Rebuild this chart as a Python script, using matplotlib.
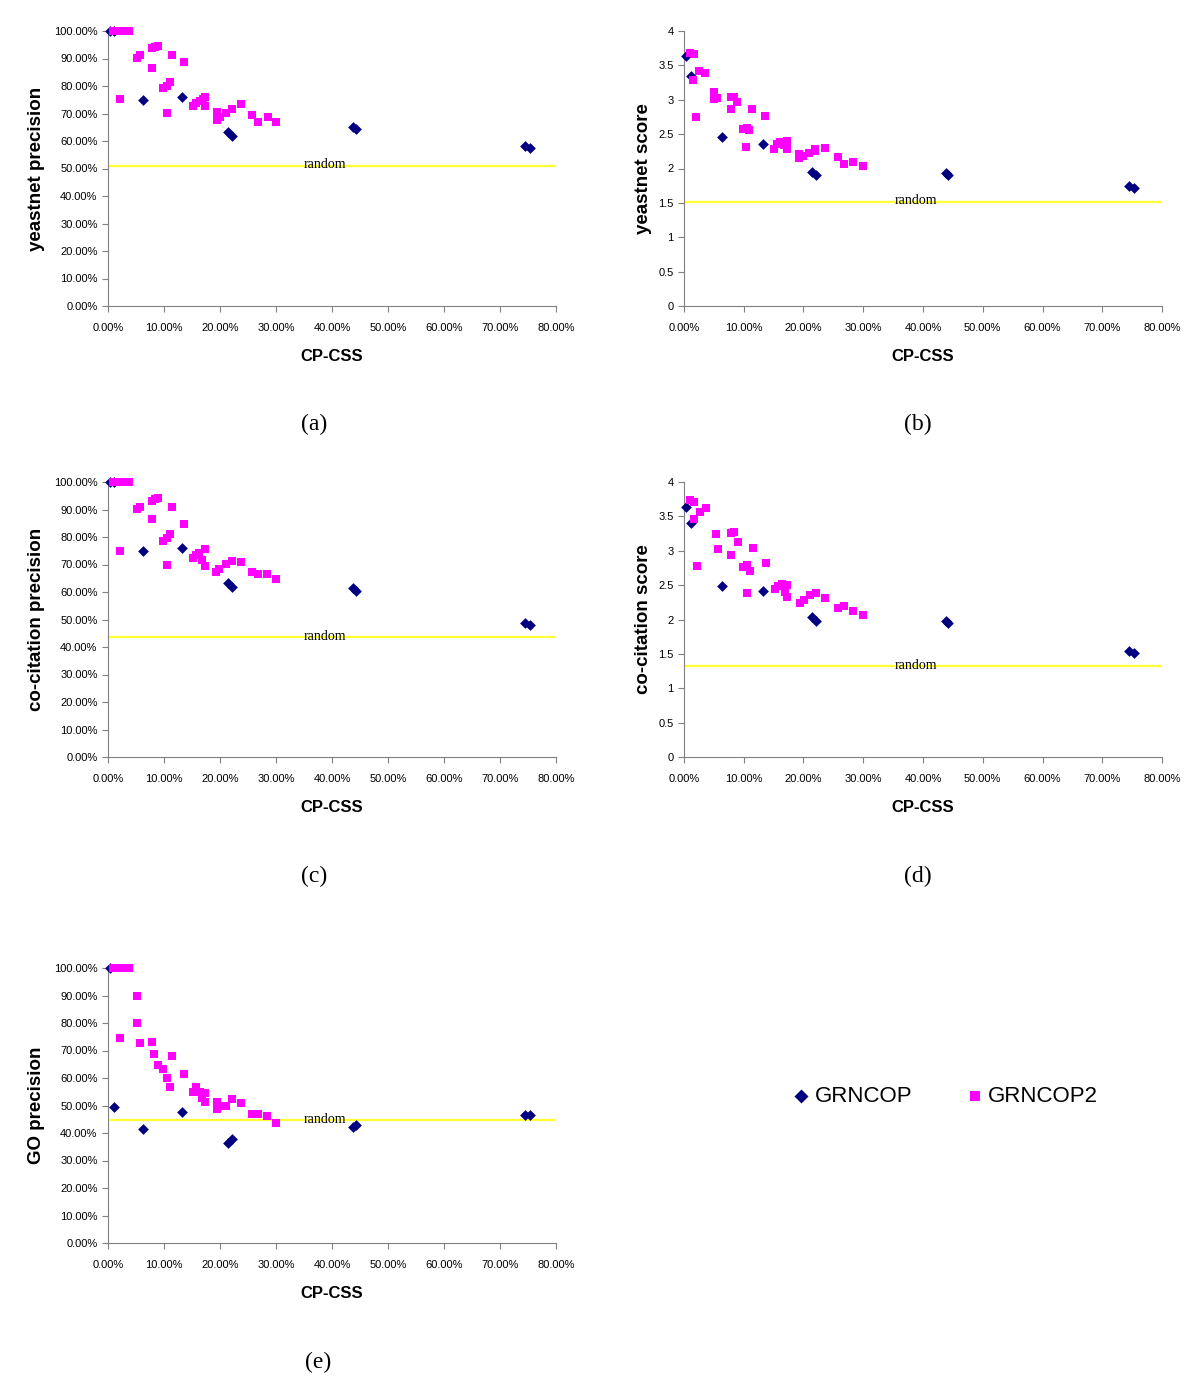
import matplotlib.pyplot as plt
from matplotlib.ticker import FuncFormatter, MultipleLocator

plt.rcParams['font.family'] = ['Liberation Sans', 'DejaVu Sans']

# CP-CSS values (percent) of the GRNCOP points, shared by all panels
grncop_x = [0.4, 1.1, 6.3, 13.2, 21.5, 22.1, 43.8, 44.2, 74.4, 75.3]

# panel (a) yeastnet precision
a_grncop_y = [100, 100, 75.0, 75.9, 63.4, 61.8, 65.2, 64.3, 58.3, 57.3]
a_grncop2_x = [0.9, 1.5, 2.3, 3.0, 3.8, 2.1, 5.1, 5.7, 7.8, 8.4, 9.0, 7.9, 9.9, 10.5, 11.1, 10.5, 11.5,
               13.6, 15.2, 15.8, 16.4, 16.9, 17.4, 17.4, 19.4, 19.4, 20.0, 21.1, 22.1, 23.8, 25.8, 26.8,
               28.5, 30.0]
a_grncop2_y = [100, 100, 100, 100, 100, 75.2, 90.3, 91.3, 93.7, 94.3, 94.5, 86.7, 79.2, 80.1, 81.3, 70.3,
               91.3, 88.8, 72.7, 73.7, 74.5, 75.2, 76.1, 72.7, 70.7, 67.6, 68.6, 70.3, 71.5, 73.5, 69.5,
               66.8, 68.6, 66.8]
a_random = 51.0

# panel (b) yeastnet score
b_grncop_y = [3.64, 3.34, 2.46, 2.36, 1.95, 1.91, 1.93, 1.90, 1.75, 1.72]
b_grncop2_x = [1.0, 1.6, 1.5, 2.5, 3.5, 2.0, 5.1, 5.1, 5.6, 7.8, 8.4, 8.8, 7.8, 11.4, 13.6, 9.9, 10.5, 10.9,
               10.4, 15.1, 15.6, 16.1, 16.5, 16.8, 17.2, 17.3, 19.3, 19.3, 20.0, 21.0, 21.9, 22.0, 23.6,
               25.7, 26.8, 28.3, 30.0]
b_grncop2_y = [3.68, 3.67, 3.29, 3.42, 3.39, 2.75, 3.12, 3.01, 3.02, 3.04, 3.04, 2.97, 2.87, 2.87, 2.77,
               2.57, 2.59, 2.56, 2.32, 2.28, 2.36, 2.38, 2.38, 2.34, 2.40, 2.28, 2.21, 2.16, 2.18, 2.23,
               2.25, 2.29, 2.30, 2.17, 2.06, 2.09, 2.03]
b_random = 1.52

# panel (c) co-citation precision
c_grncop_y = [100, 100, 75.0, 76.1, 63.2, 61.7, 61.3, 60.5, 48.8, 48.1]
c_grncop2_x = [0.9, 1.5, 2.3, 3.0, 3.8, 2.1, 5.1, 5.7, 7.8, 8.4, 9.0, 7.8, 9.9, 10.5, 11.1, 10.5, 11.5,
               13.6, 15.2, 15.7, 16.3, 16.8, 17.3, 17.3, 19.3, 19.9, 21.1, 22.1, 23.7, 25.8, 26.7, 28.4,
               30.0]
c_grncop2_y = [100, 100, 100, 100, 100, 74.9, 90.1, 91.0, 93.2, 93.8, 94.1, 86.5, 78.7, 79.7, 81.1, 69.8,
               91.0, 84.6, 72.5, 73.5, 74.3, 71.6, 75.7, 69.6, 67.4, 68.4, 70.1, 71.4, 71.0, 67.4, 66.5,
               66.7, 64.8]
c_random = 43.5

# panel (d) co-citation score
d_grncop_y = [3.64, 3.40, 2.49, 2.41, 2.04, 1.98, 1.98, 1.95, 1.54, 1.52]
d_grncop2_x = [1.0, 1.6, 1.6, 2.6, 3.7, 2.1, 5.3, 5.7, 7.8, 8.4, 9.0, 7.9, 11.5, 13.7, 9.9, 10.5, 11.1,
               10.6, 15.2, 15.8, 16.4, 16.9, 17.3, 17.3, 19.4, 20.1, 21.1, 22.1, 23.6, 25.8, 26.8, 28.3,
               30.0]
d_grncop2_y = [3.74, 3.71, 3.46, 3.57, 3.62, 2.78, 3.24, 3.02, 3.26, 3.27, 3.13, 2.94, 3.04, 2.82, 2.77,
               2.79, 2.71, 2.38, 2.44, 2.49, 2.52, 2.40, 2.50, 2.33, 2.24, 2.28, 2.35, 2.39, 2.31, 2.17,
               2.19, 2.13, 2.07]
d_random = 1.32

# panel (e) GO precision
e_grncop_y = [100, 49.6, 41.5, 47.8, 36.2, 37.8, 42.1, 42.9, 46.6, 46.6]
e_grncop2_x = [0.9, 1.5, 2.3, 3.0, 3.8, 2.1, 5.2, 5.2, 5.7, 7.8, 8.3, 8.9, 9.9, 10.5, 11.0, 11.5, 13.6,
               15.2, 15.8, 16.4, 16.7, 17.3, 17.3, 19.4, 19.4, 20.0, 21.1, 22.1, 23.7, 25.8, 26.8, 28.4,
               30.0]
e_grncop2_y = [100, 100, 100, 100, 100, 74.7, 89.9, 79.9, 72.6, 73.2, 68.6, 64.7, 63.2, 59.9, 56.8, 68.1,
               61.5, 55.0, 56.6, 54.8, 52.8, 54.7, 51.4, 51.4, 48.6, 49.9, 49.8, 52.4, 51.0, 46.8, 47.0,
               46.2, 43.5]
e_random = 44.7

pct = FuncFormatter(lambda v, p: f'{v:.2f}%')
score_fmt = FuncFormatter(lambda v, p: f'{v:g}')


def px_axes(fig, left, top, right, bottom):
    # axes box given in pixel coords of the 1200x1392 image
    W, H = 1200, 1392
    return fig.add_axes([left / W, 1 - bottom / H, (right - left) / W, (bottom - top) / H])


def draw_panel(ax, gx, gy, g2x, g2y, rnd, ylabel, is_score, ylab_x):
    ax.scatter(gx, gy, marker='D', s=30, color='#000080', linewidths=0, clip_on=False, zorder=3,
               label='GRNCOP')
    ax.scatter(g2x, g2y, marker='s', s=36, color='#FF00FF', linewidths=0, clip_on=False, zorder=4,
               label='GRNCOP2')
    ax.axhline(rnd, color='#FFFF33', lw=1.6, zorder=2)
    ax.annotate('random', (38.8, rnd), xytext=(0, -4), textcoords='offset points', ha='center',
                va='bottom', fontsize=10, family='Liberation Serif')

    ax.set_xlim(0, 80)
    ax.xaxis.set_major_locator(MultipleLocator(10))
    ax.xaxis.set_major_formatter(pct)
    if is_score:
        ax.set_ylim(0, 4)
        ax.yaxis.set_major_locator(MultipleLocator(0.5))
        ax.yaxis.set_major_formatter(score_fmt)
    else:
        ax.set_ylim(0, 100)
        ax.yaxis.set_major_locator(MultipleLocator(10))
        ax.yaxis.set_major_formatter(pct)

    for side in ['top', 'right']:
        ax.spines[side].set_visible(False)
    for side in ['left', 'bottom']:
        ax.spines[side].set_color('#808080')
    ax.tick_params(colors='#808080', labelcolor='black', labelsize=8, length=4, direction='out')
    ax.tick_params(axis='x', pad=8)

    ax.set_xlabel('CP-CSS', fontsize=12, fontweight='bold')
    ax.xaxis.set_label_coords(0.5, -0.156)
    ax.set_ylabel(ylabel, fontsize=13.5, fontweight='bold')
    ax.yaxis.set_label_coords(ylab_x, 0.5)


fig = plt.figure(figsize=(12, 13.92), dpi=100)

ax_a = px_axes(fig, 108, 31, 556, 306)
draw_panel(ax_a, grncop_x, a_grncop_y, a_grncop2_x, a_grncop2_y, a_random, 'yeastnet precision', False, -0.14)
ax_b = px_axes(fig, 684, 31, 1162, 306)
draw_panel(ax_b, grncop_x, b_grncop_y, b_grncop2_x, b_grncop2_y, b_random, 'yeastnet score', True, -0.067)
ax_c = px_axes(fig, 108, 482, 556, 757)
draw_panel(ax_c, grncop_x, c_grncop_y, c_grncop2_x, c_grncop2_y, c_random, 'co-citation precision', False, -0.14)
ax_d = px_axes(fig, 684, 482, 1162, 757)
draw_panel(ax_d, grncop_x, d_grncop_y, d_grncop2_x, d_grncop2_y, d_random, 'co-citation score', True, -0.067)
ax_e = px_axes(fig, 108, 968, 556, 1243)
draw_panel(ax_e, grncop_x, e_grncop_y, e_grncop2_x, e_grncop2_y, e_random, 'GO precision', False, -0.14)

# panel letters
for lbl, x, y in [('(a)', 314, 424), ('(b)', 918, 424), ('(c)', 314, 876), ('(d)', 918, 876), ('(e)', 318, 1362)]:
    fig.text(x / 1200, 1 - y / 1392, lbl, ha='center', va='center', fontsize=17, family='Liberation Serif')

handles, labels = ax_a.get_legend_handles_labels()
fig.legend(handles, labels, loc='center left', bbox_to_anchor=(768 / 1200, 1 - 1096 / 1392), ncol=2,
           frameon=False, fontsize=16, markerscale=1.3, handletextpad=0.0, columnspacing=2.2,
           handlelength=1.2)

fig.savefig('out.png', dpi=100)
